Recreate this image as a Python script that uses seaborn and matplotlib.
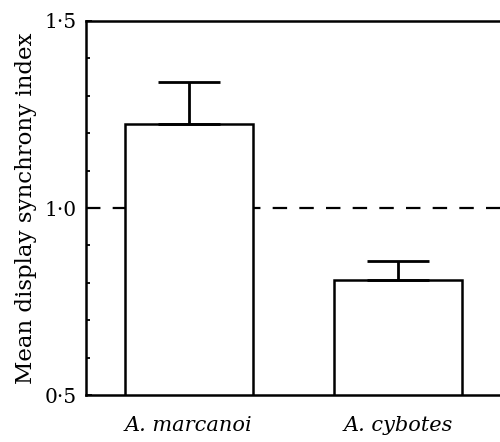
import matplotlib
matplotlib.use("Agg")
import matplotlib.pyplot as plt
import seaborn as sns
import pandas as pd
from matplotlib.ticker import MultipleLocator, FixedLocator

species = ["A. marcanoi", "A. cybotes"]
means = [1.224, 0.808]
errors = [0.112, 0.051]
ytick_values = [0.5, 1.0, 1.5]
ytick_labels = ["0·5", "1·0", "1·5"]
reference_level = 1.0

sns.set_style("ticks")
plt.rcParams["font.family"] = ["DejaVu Serif"]
plt.rcParams["text.color"] = "black"
plt.rcParams["axes.labelcolor"] = "black"
plt.rcParams["xtick.color"] = "black"
plt.rcParams["ytick.color"] = "black"

fig = plt.figure(figsize=(5.0, 4.42), dpi=100)
ax = fig.add_axes([0.172, 0.1063, 0.83, 0.8462])

df = pd.DataFrame({"species": species, "mean": means})
sns.barplot(data=df, x="species", y="mean", color="white", edgecolor="black",
            linewidth=1.8, width=0.61, ax=ax, errorbar=None, saturation=1)
for p in ax.patches:
    p.set_facecolor("white")

ax.errorbar(range(len(species)), means, yerr=[[0] * len(errors), errors],
            fmt="none", ecolor="black", elinewidth=2.0, capsize=22, capthick=2.0)

ax.axhline(reference_level, color="black", linewidth=1.6, linestyle=(0, (6.5, 5.5)), zorder=0.5)

ax.set_ylim(0.5, 1.5)
ax.set_xlim(-0.49, 1.49)
ax.yaxis.set_major_locator(FixedLocator(ytick_values))
ax.set_yticklabels(ytick_labels, fontsize=14.5)
ax.yaxis.set_minor_locator(MultipleLocator(0.1))
ax.tick_params(axis="y", which="major", direction="in", length=4, width=1.3, pad=7, colors="black")
ax.tick_params(axis="y", which="minor", direction="in", length=3, width=1.3, colors="black")
ax.tick_params(axis="x", length=0, pad=15, colors="black")
for lab in ax.get_xticklabels():
    lab.set_fontstyle("italic")
    lab.set_fontsize(15)

ax.set_xlabel("")
ax.set_ylabel("Mean display synchrony index", fontsize=16.5, labelpad=5, color="black")

ax.spines["right"].set_visible(False)
for s in ["left", "top", "bottom"]:
    ax.spines[s].set_linewidth(1.8)
    ax.spines[s].set_color("black")

fig.savefig("out.png", dpi=100)
